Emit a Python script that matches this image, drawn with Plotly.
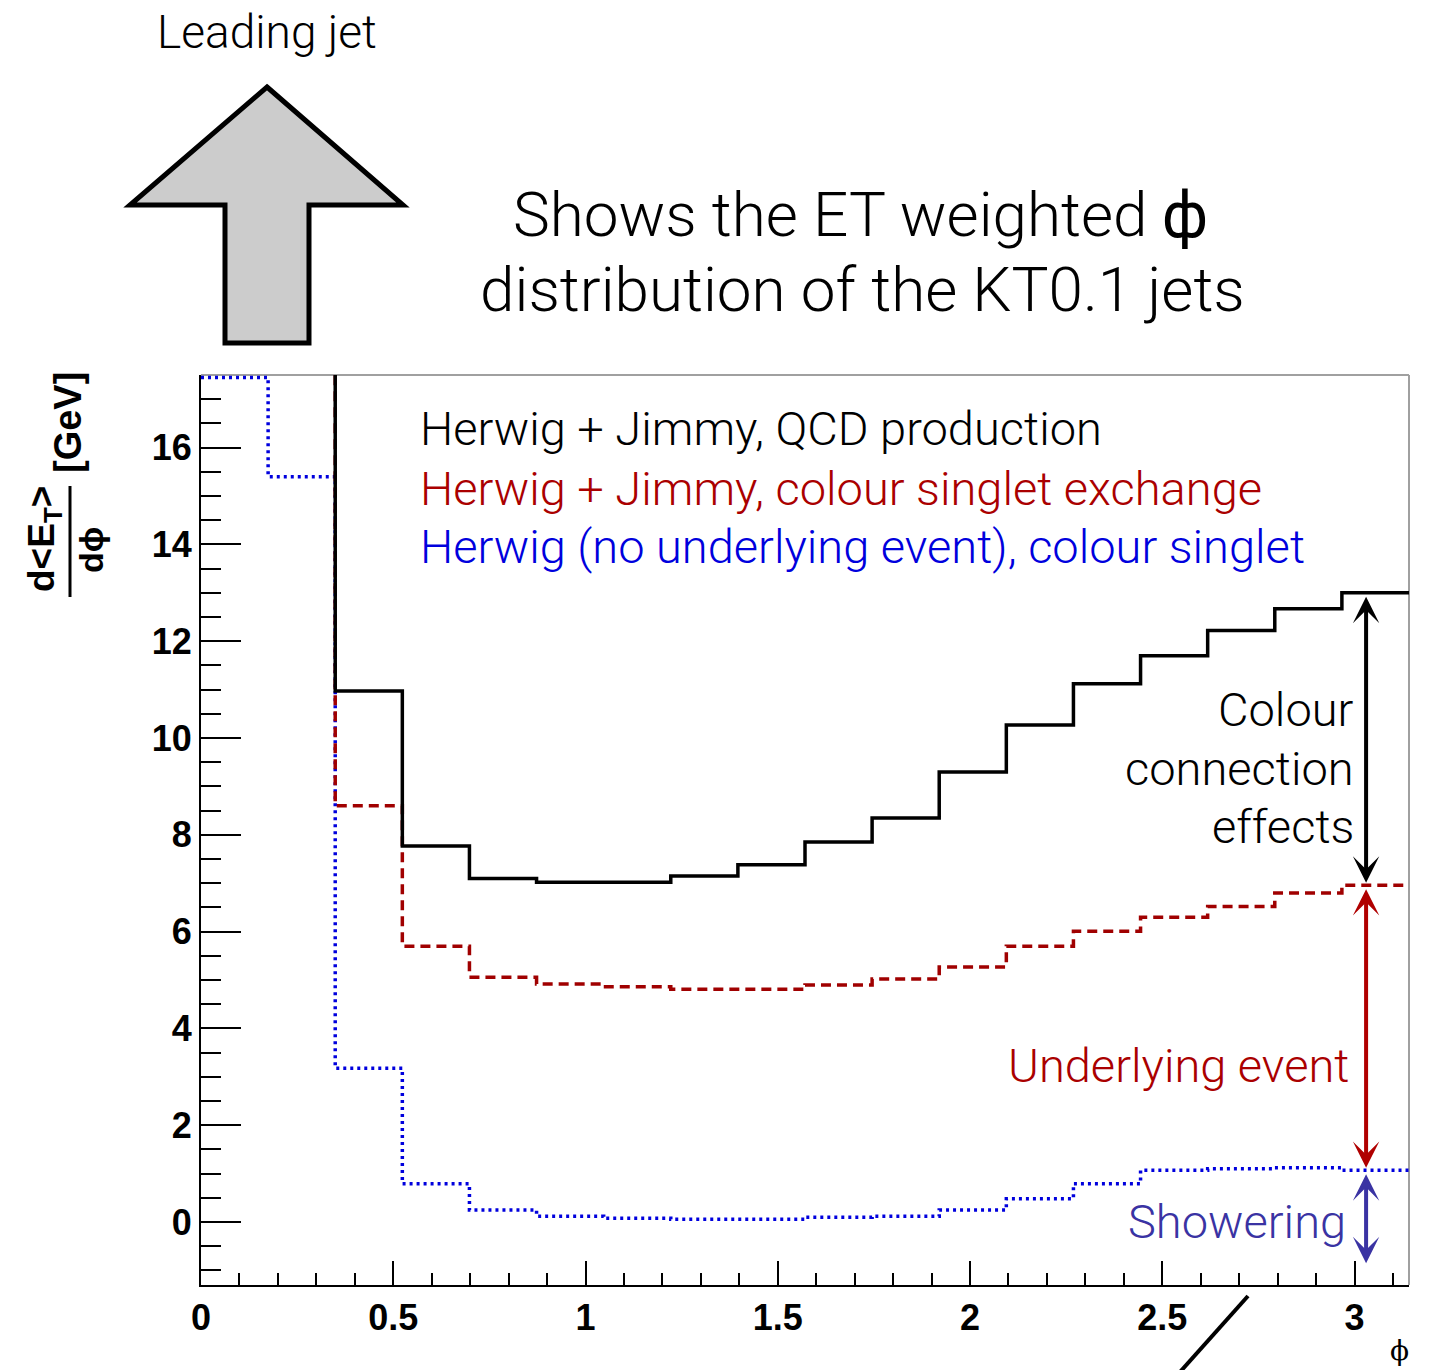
import numpy as np
import plotly.graph_objects as go

# phi binning: 18 bins of 10 degrees over [0, pi]
n_bins = 18
phi_edges = np.linspace(0.0, np.pi, n_bins + 1)

# d<E_T>/dphi [GeV] per bin
qcd_production = [24.0, 22.0, 10.97, 7.77, 7.10, 7.02, 7.02, 7.15, 7.38, 7.85,
                  8.35, 9.30, 10.27, 11.12, 11.70, 12.22, 12.67, 13.00]
colour_singlet = [21.0, 19.0, 8.60, 5.70, 5.06, 4.92, 4.86, 4.81, 4.81, 4.90,
                  5.02, 5.27, 5.70, 6.01, 6.30, 6.52, 6.80, 6.96]
singlet_no_ue = [17.45, 15.40, 3.18, 0.79, 0.25, 0.12, 0.08, 0.06, 0.06, 0.10,
                 0.12, 0.25, 0.48, 0.79, 1.07, 1.10, 1.12, 1.07]

legend_labels = ["Herwig + Jimmy, QCD production",
                 "Herwig + Jimmy, colour singlet exchange",
                 "Herwig (no underlying event), colour singlet"]

x_ticks = [0, 0.5, 1, 1.5, 2, 2.5, 3]
x_tick_text = ["0", "0.5", "1", "1.5", "2", "2.5", "3"]
y_ticks = [0, 2, 4, 6, 8, 10, 12, 14, 16]

BLACK = "#000000"
RED_LINE = "#a00000"
BLUE_LINE = "#0000dd"
RED_TEXT = "#aa0000"
BLUE_TEXT = "#0000dd"
SHOWER = "#3a33a3"

W, H = 1433, 1370
L, R, T, B = 201, 24, 375, 85
PW, PH = W - L - R, H - T - B

TEXT_FONT = "'Roboto Light', Roboto, 'Helvetica Neue', Helvetica, Arial, sans-serif"
TICK_FONT = "'Liberation Sans', Arial, Helvetica, sans-serif"


def px(x):
    return (x - L) / PW


def py(y):
    return (H - B - y) / PH


def step(values):
    return list(phi_edges), list(values) + [values[-1]]


fig = go.Figure()

for vals, colour, dash, width in [(singlet_no_ue, BLUE_LINE, "3px,4px", 3.5),
                                  (colour_singlet, RED_LINE, "10px,6px", 3.5),
                                  (qcd_production, BLACK, "solid", 3.5)]:
    xs, ys = step(vals)
    fig.add_trace(go.Scatter(x=xs, y=ys, mode="lines", line_shape="hv",
                             line=dict(color=colour, width=width, dash=dash),
                             showlegend=False, hoverinfo="skip"))

annotations = []


def text(s, x, y, size, colour=BLACK, anchor="left", family=TEXT_FONT, weight=300, angle=0):
    annotations.append(dict(text=s, x=px(x), y=py(y), xref="paper", yref="paper",
                            xanchor=anchor, yanchor="middle", showarrow=False,
                            textangle=angle,
                            font=dict(family=family, size=size, color=colour, weight=weight)))


def line_text(s, x, baseline, size, **kw):
    text(s, x, baseline - 0.35 * size, size, **kw)


# headline
line_text("Shows the ET weighted <b>ϕ</b>", 860, 236, 62, anchor="center")
line_text("distribution of the KT0.1 jets", 862, 311, 62, anchor="center")
line_text("Leading jet", 267, 48, 46, anchor="center")

# legend
for lbl, colour, base in zip(legend_labels, [BLACK, RED_TEXT, BLUE_TEXT], [445, 505, 563]):
    line_text(lbl, 418, base, 47, colour=colour)

# component labels
line_text("Colour", 1356, 726, 47, anchor="right")
line_text("connection", 1356, 785, 47, anchor="right")
line_text("effects", 1356, 843, 47, anchor="right")
line_text("Underlying event", 1351, 1082, 47, colour=RED_TEXT, anchor="right")
line_text("Showering", 1348, 1238, 47, colour=SHOWER, anchor="right")

# axis titles
text("ϕ", 1399, 1350, 28, family="'DejaVu Serif', 'Liberation Serif', serif", weight=400, anchor="center")
text("[GeV]", 68, 423, 38, family=TICK_FONT, weight=700, anchor="center", angle=-90)
text("d&lt;E<sub>T</sub>&gt;", 44, 539, 37, family=TICK_FONT, weight=700, anchor="center", angle=-90)
text("dϕ", 91, 550, 34, family=TICK_FONT, weight=700, anchor="center", angle=-90)

# double-headed arrows between the last-bin levels
arrow_x = 3.03
for top, bottom, colour in [(qcd_production[-1], colour_singlet[-1], BLACK),
                            (colour_singlet[-1], singlet_no_ue[-1], "#b00000"),
                            (singlet_no_ue[-1], -0.9, SHOWER)]:
    annotations.append(dict(x=arrow_x, y=top, ax=arrow_x, ay=bottom, xref="x", yref="y",
                            axref="x", ayref="y", text="", showarrow=True,
                            arrowside="end+start", arrowhead=3, startarrowhead=3,
                            arrowsize=1.1, startarrowsize=1.1, arrowwidth=4,
                            arrowcolor=colour, standoff=4, startstandoff=1))

shapes = [
    # grey frame on top and right
    dict(type="line", xref="paper", yref="paper", x0=0, x1=1, y0=1, y1=1,
         line=dict(color="#a0a0a0", width=2), layer="below"),
    dict(type="line", xref="paper", yref="paper", x0=1, x1=1, y0=0, y1=1,
         line=dict(color="#a0a0a0", width=2), layer="below"),
    # fraction bar of the y title
    dict(type="line", xref="paper", yref="paper", x0=px(70), x1=px(70), y0=py(597), y1=py(486),
         line=dict(color=BLACK, width=3)),
    # slash below the x axis
    dict(type="line", xref="paper", yref="paper", x0=px(1248), x1=px(1180), y0=py(1296), y1=py(1372),
         line=dict(color=BLACK, width=4)),
]

# leading-jet block arrow
pts = [(267, 87), (403, 205), (309, 205), (309, 343), (225, 343), (225, 205), (130, 205)]
path = "M " + " L ".join(f"{px(a):.5f},{py(b):.5f}" for a, b in pts) + " Z"
shapes.append(dict(type="path", xref="paper", yref="paper", path=path,
                   fillcolor="#cccccc", line=dict(color=BLACK, width=5)))

fig.update_layout(
    width=W, height=H,
    margin=dict(l=L, r=R, t=T, b=B, pad=0),
    paper_bgcolor="white", plot_bgcolor="white",
    showlegend=False,
    annotations=annotations,
    shapes=shapes,
    xaxis=dict(range=[0, np.pi], showgrid=False, zeroline=False,
               showline=True, linecolor=BLACK, linewidth=2,
               tickvals=x_ticks, ticktext=x_tick_text,
               ticks="inside", ticklen=24, tickwidth=2, tickcolor=BLACK,
               minor=dict(dtick=0.1, tick0=0, ticks="inside", ticklen=12, tickwidth=2, tickcolor=BLACK),
               tickfont=dict(family=TICK_FONT, size=36, color=BLACK, weight=700)),
    yaxis=dict(range=[-1.3, 17.5], showgrid=False, zeroline=False,
               showline=True, linecolor=BLACK, linewidth=2,
               tickvals=y_ticks,
               ticks="inside", ticklen=40, tickwidth=2, tickcolor=BLACK,
               minor=dict(dtick=0.5, tick0=0, ticks="inside", ticklen=20, tickwidth=2, tickcolor=BLACK),
               tickfont=dict(family=TICK_FONT, size=36, color=BLACK, weight=700)),
)

fig.write_html("out.html")
